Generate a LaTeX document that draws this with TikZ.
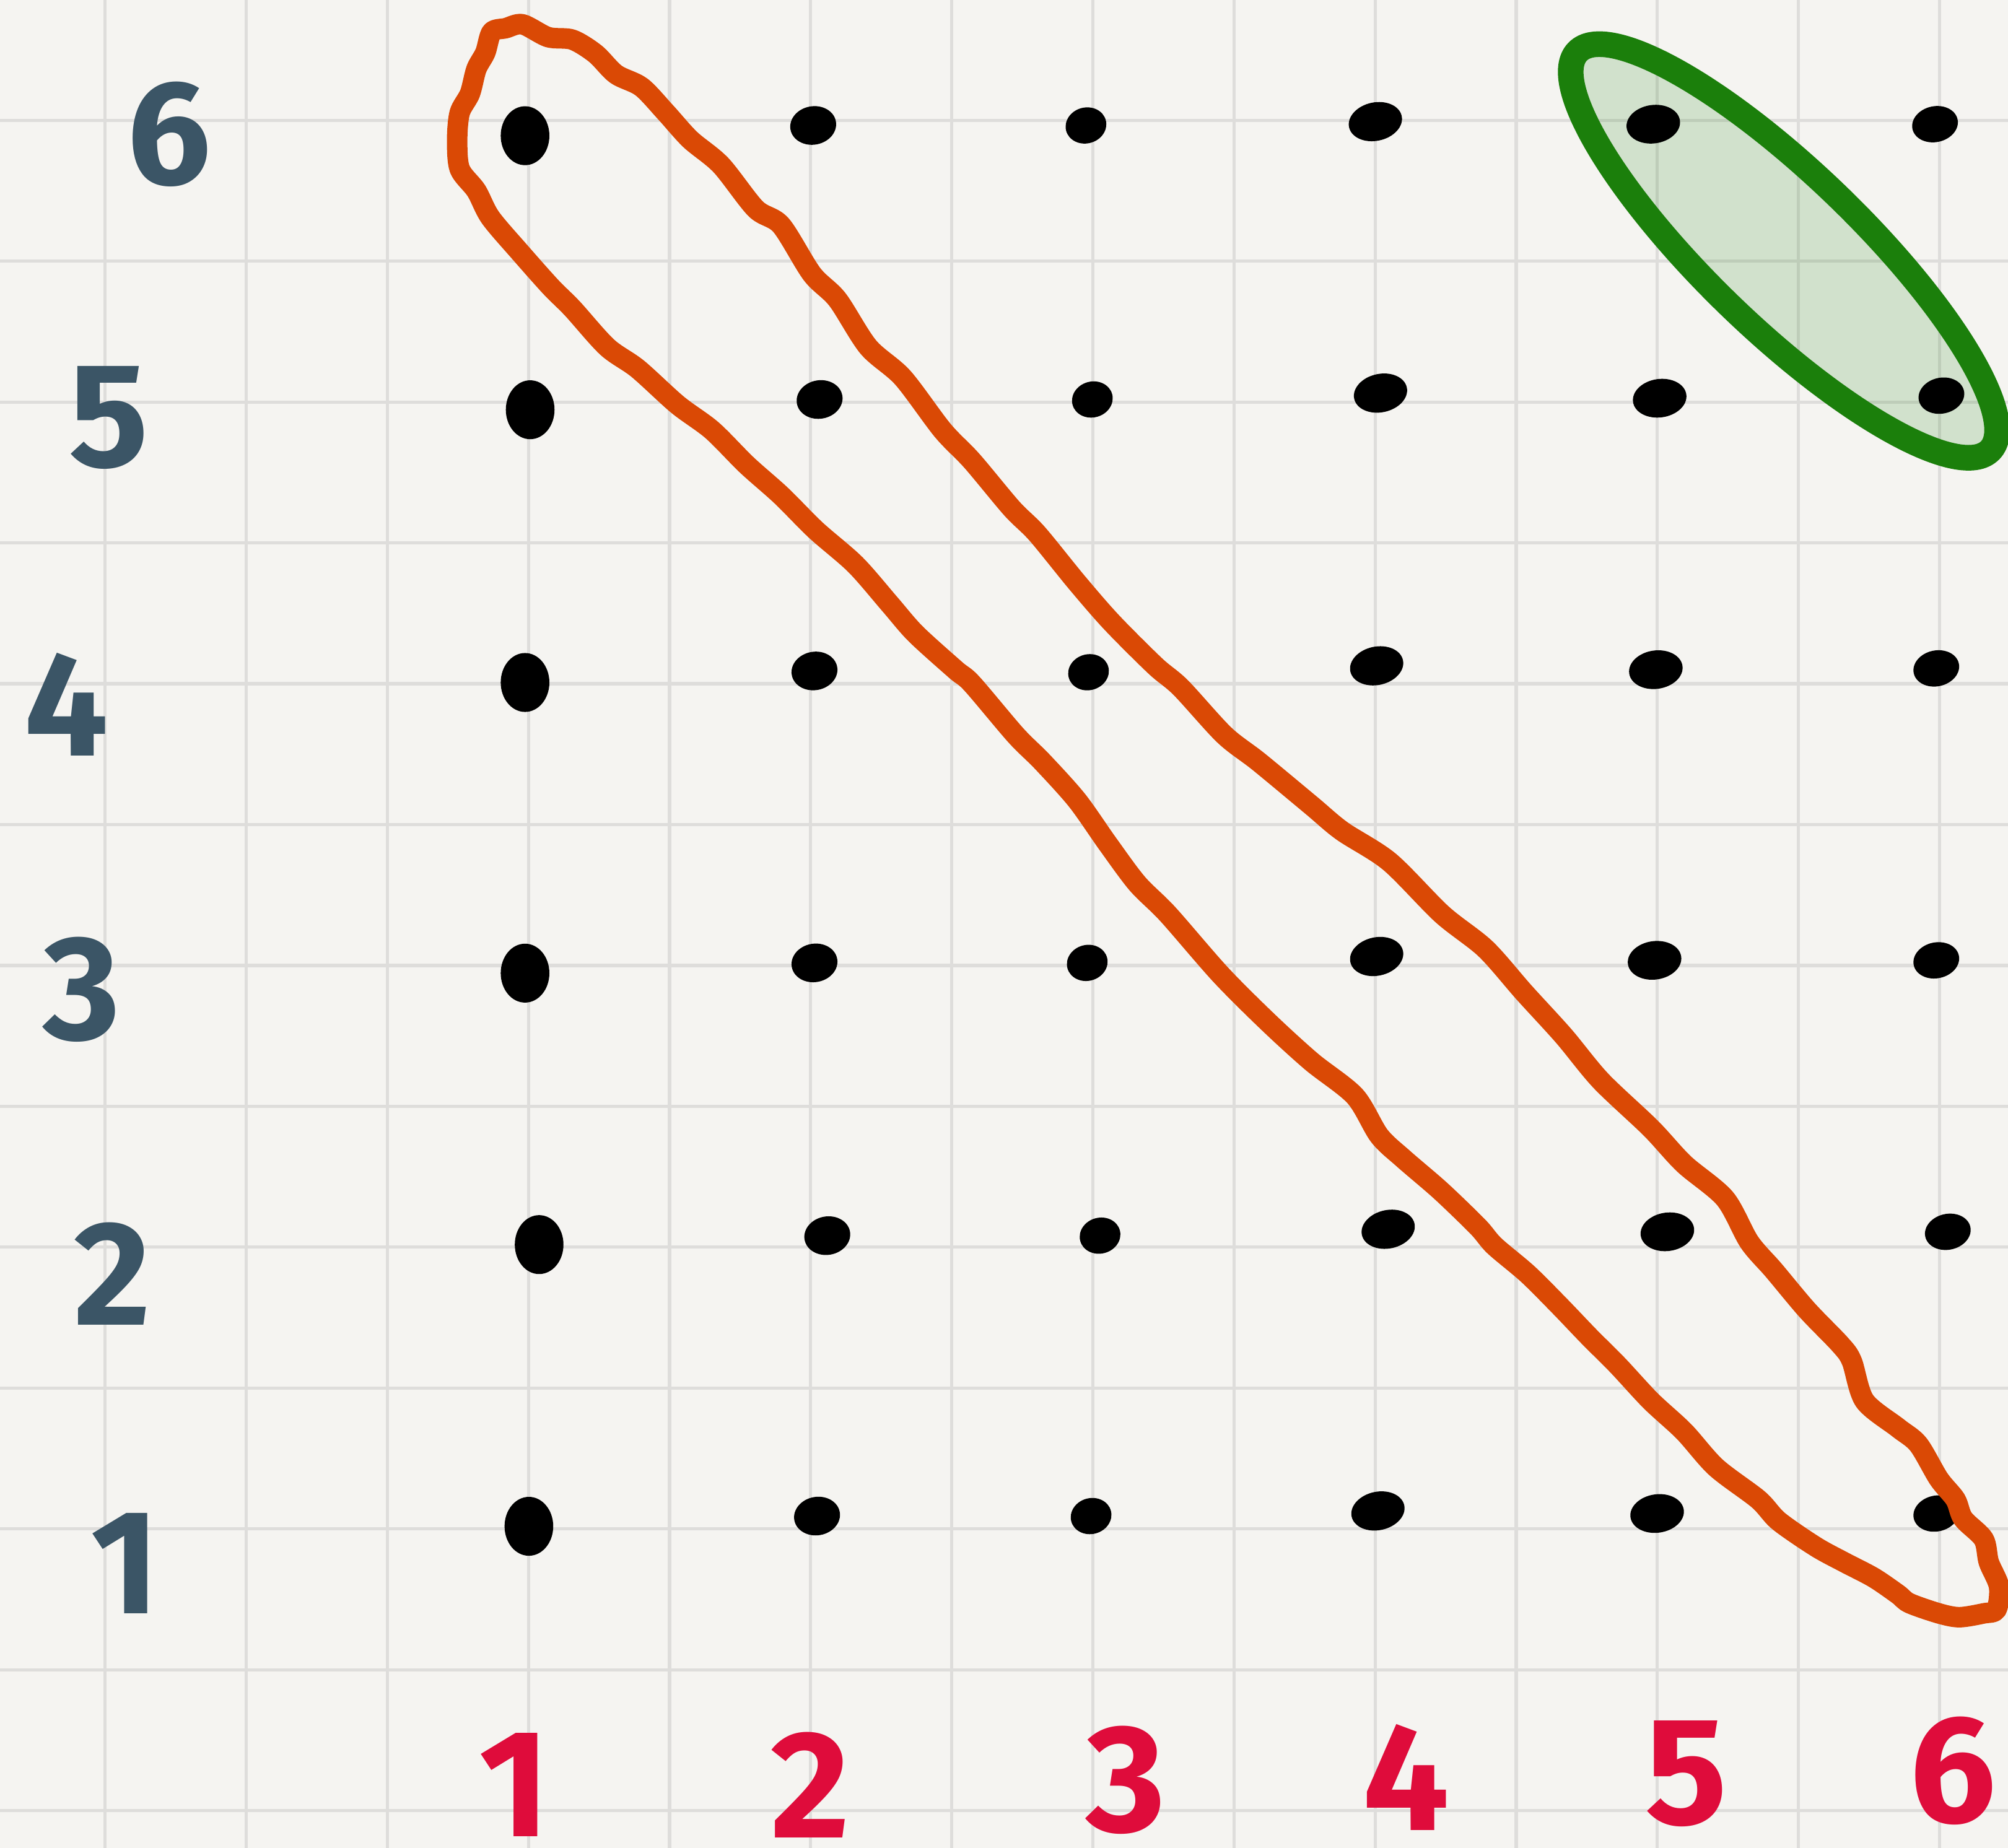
\documentclass[tikz,border=0pt]{standalone}
\usepackage{fontspec}
\setmainfont{Fira Sans}
\definecolor{bg}{HTML}{F5F4F1}
\definecolor{gridc}{HTML}{DEDDDB}
\definecolor{slate}{HTML}{3B5566}
\definecolor{crimson}{HTML}{DF0C3B}
\definecolor{loopc}{HTML}{DA4905}
\definecolor{leaf}{HTML}{1B7F0B}
\begin{document}
\begin{tikzpicture}[x=0.1mm,y=-0.1mm,
  gridline/.style={draw=gridc,line width=0.25mm},
  dotc/.style={fill=black},
  lab/.style={text=slate,font=\fontsize{33}{38}\selectfont\bfseries,inner sep=0pt},
  labr/.style={text=crimson,font=\fontsize{34}{38}\selectfont\bfseries,inner sep=0pt},
  orangeloop/.style={draw=loopc,line width=1.6mm,line join=round,line cap=round},
  greenring/.style={draw=leaf,line width=2.0mm},
  greenfill/.style={fill=leaf,fill opacity=0.16}]
\fill[bg] (0,0) rectangle (1568,1443);
\useasboundingbox (0,0) rectangle (1568,1443);
% grid
\foreach \i in {0,...,13} \draw[gridline] ({82+110.2*\i},0) -- ({82+110.2*\i},1443);
\foreach \j in {0,...,12} \draw[gridline] (0,{94+110*\j}) -- (1568,{94+110*\j});
% green ellipse fill
\coordinate (gc) at (1393,196);
\fill[greenfill,rotate around={-44:(gc)}] (gc) ellipse [x radius=224, y radius=60];
% dots
\foreach \px/\py/\rx/\ry/\rot in {
 410/106/19/23/0, 635/98/18/15/10, 848/98/16/14/15, 1074/95/21/15/12, 1291/97/21/15/8, 1511/97/18/14/12,
 414/320/19/23/0, 640/312/18/15/10, 853/312/16/14/15, 1078/307/21/15/12, 1296/311/21/15/8, 1516/309/18/14/12,
 410/533/19/23/0, 636/524/18/15/10, 850/525/16/14/15, 1075/520/21/15/12, 1293/523/21/15/8, 1512/522/18/14/12,
 410/760/19/23/0, 636/752/18/15/10, 849/752/16/14/15, 1075/747/21/15/12, 1292/750/21/15/8, 1512/750/18/14/12,
 421/972/19/23/0, 646/965/18/15/10, 859/965/16/14/15, 1084/960/21/15/12, 1302/962/21/15/8, 1521/962/18/14/12,
 413/1192/19/23/0, 638/1184/18/15/10, 852/1184/16/14/15, 1076/1180/21/15/12, 1294/1182/21/15/8, 1512/1182/18/14/12}
  \fill[dotc,rotate around={\rot:(\px,\py)}] (\px,\py) ellipse [x radius=\rx, y radius=\ry];
% green ring
\draw[greenring,rotate around={-44:(gc)}] (gc) ellipse [x radius=224, y radius=60];
% orange loop
\draw[orangeloop] plot[smooth cycle,tension=0.5] coordinates {
(408,19) (428,29) (447,31) (465,42) (481,58) (501,68) (520,88) (539,109) (563,129) (590,163) (610,176) (634,214) (654,234) (678,271) (705,295) (736,336) (759,360) (790,397) (810,417) (841,455) (868,486) (902,520) (922,537) (956,574) (983,595) (1024,629) (1048,649) (1085,673) (1126,714) (1160,741) (1190,775) (1221,809) (1250,844) (1289,881) (1315,909) (1347,936) (1366,970) (1385,992) (1411,1023) (1437,1050) (1446,1063) (1456,1094) (1482,1115) (1498,1128) (1514,1155) (1527,1171) (1533,1186) (1549,1202) (1553,1220) (1561,1239) (1559,1257) (1549,1260) (1530,1263) (1514,1260) (1491,1252) (1482,1245) (1463,1232) (1440,1220) (1418,1208) (1389,1188) (1373,1171) (1340,1146) (1315,1118) (1289,1094) (1263,1066) (1241,1044) (1218,1020) (1193,995) (1167,973) (1154,958) (1125,930) (1096,905) (1077,887) (1058,856) (1024,829) (990,798) (953,761) (912,714) (888,690) (865,659) (841,625) (814,595) (793,574) (759,534) (746,523) (715,495) (695,472) (668,441) (637,414) (610,387) (583,363) (556,336) (529,316) (498,288) (474,271) (447,241) (430,224) (406,197) (383,170) (372,149) (359,132) (357,109) (359,88) (367,73) (372,54) (379,41) (384,25) (395,22)};
% left labels
\node[lab] (l6) at (132,105) {6};
\node[lab] (l5) at (85,326) {5};
\node[lab] (l4) at (52,550) {4};
\node[lab] (l3) at (64,773) {3};
\node[lab] (l2) at (88,995) {2};
\node[lab] (l1) at (98,1221) {1};
% bottom labels
\node[labr] (b1) at (402,1394) {1};
\node[labr] (b2) at (633,1394) {2};
\node[labr] (b3) at (879,1390) {3};
\node[labr] (b4) at (1098,1388) {4};
\node[labr] (b5) at (1317,1385) {5};
\node[labr] (b6) at (1525,1383) {6};
\end{tikzpicture}
\end{document}
